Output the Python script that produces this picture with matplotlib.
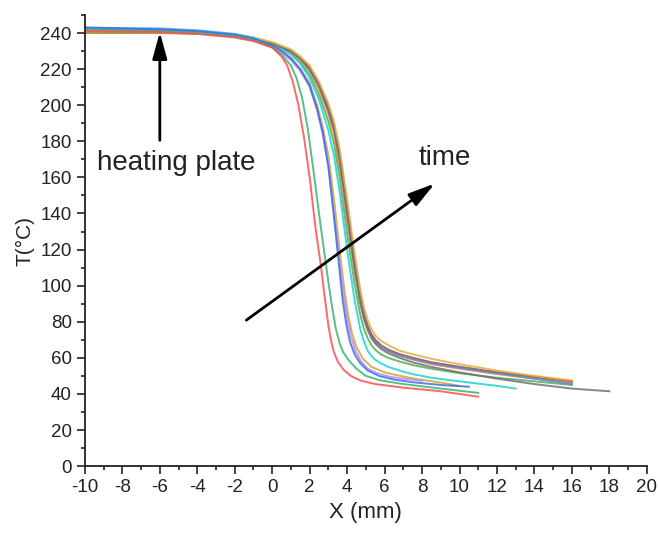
import matplotlib
matplotlib.use("Agg")
import matplotlib.pyplot as plt
from matplotlib.ticker import MultipleLocator

plt.rcParams['font.family'] = ['Liberation Sans', 'DejaVu Sans']
plt.rcParams['axes.unicode_minus'] = False

# temperature profiles, one per time step (x in mm, T in degC)
x_red = [-10, -6, -4, -2, -1, 0, 0.5, 0.8, 1.1, 1.4, 1.7, 2.0, 2.3, 2.6, 2.8, 3.0, 3.15, 3.3, 3.5, 3.8, 4.2, 4.7, 5.5, 7, 9, 11]
t_red = [241, 240.5, 239.5, 237.5, 235.5, 232, 227, 222, 213, 200, 182, 160, 133, 111, 94, 78, 69, 63, 58, 53.5, 50, 47.5, 45.5, 43.5, 41.5, 38.5]

x_green = [-10, -6, -4, -2, -1, 0, 0.5, 1, 1.3, 1.6, 1.9, 2.2, 2.5, 2.8, 3.0, 3.2, 3.4, 3.6, 3.8, 4.1, 4.5, 5, 5.8, 7, 9, 11]
t_green = [242, 241, 240, 238, 236, 232, 228, 222, 215, 204, 187, 164, 140, 117, 102, 88, 76, 68, 63, 58.5, 54, 50, 47.5, 45.5, 43, 40.6]

x_blue = [-10, -6, -4, -2, -1, 0, 0.5, 1, 1.5, 2, 2.4, 2.7, 3.0, 3.3, 3.55, 3.75, 3.95, 4.15, 4.4, 4.7, 5.1, 5.7, 6.5, 7.5, 9, 10.5]
t_blue = [243, 242, 241, 239, 237, 233, 230, 226, 220, 211, 198, 185, 166, 138, 113, 93, 79, 69, 62, 57, 53, 50, 48, 46.5, 45, 44]

x_purple = [-10, -6, -4, -2, -1, 0, 0.5, 1, 1.5, 2, 2.4, 2.7, 3.0, 3.3, 3.6, 3.8, 4.0, 4.2, 4.45, 4.75, 5.1, 5.6, 6.3, 7, 8]
t_purple = [242, 241, 240, 238, 236, 232, 229, 225, 219, 210, 197, 184, 166, 140, 113, 96, 82, 72, 64, 58, 54, 51.5, 49.5, 48.5, 47.3]

x_gold = [-10, -6, -4, -2, -1, 0, 0.5, 1, 1.5, 2, 2.4, 2.7, 3.0, 3.3, 3.6, 3.85, 4.05, 4.25, 4.5, 4.85, 5.3, 6, 6.7, 7.7, 9, 10]
t_gold = [241, 241, 240, 238, 236, 233, 230, 226, 220, 212, 200, 188, 172, 148, 120, 98, 84, 74, 66, 59.5, 55, 52, 50.3, 48.3, 46.3, 44.5]

# later profiles share one x grid
x_late = [-10, -6, -4, -2, -1, 0, 0.5, 1, 1.5, 2, 2.5, 3, 3.3, 3.6, 4, 4.4, 4.7, 4.9, 5.1, 5.3, 5.5, 5.8, 6.2, 6.8, 7.5, 8.5, 10, 12, 14, 16]
t_green2 = [241, 241, 240, 238.5, 237, 234, 232, 229, 224, 217, 206, 191, 179, 160, 129, 101, 84, 76, 71, 67, 64.5, 62, 60, 58, 56, 54, 51.5, 49, 47, 45]
t_olive = [240, 240, 239.5, 238.5, 237, 234, 232, 229, 226, 220, 210, 197, 186, 169, 139, 110, 92, 83, 77, 73, 70, 67, 64.5, 62, 60, 57.5, 55, 52, 49.5, 47]
t_orange = [241, 241, 240, 238.5, 237, 234, 232, 229, 225, 219, 209, 195, 184, 166, 136, 108, 90, 81, 75, 71, 68.5, 66, 63.5, 61, 59, 56.5, 54, 51, 48.5, 46]
t_darkred = [242, 241.5, 240.5, 239, 237, 234, 232, 230, 226, 221, 212, 199, 189, 173, 145, 114, 95, 85, 78, 73, 70, 67, 64.5, 62, 60, 57.5, 55, 52, 49.5, 47]
t_blue2 = [243, 242.5, 241.5, 239.5, 237.5, 234, 232, 230, 226, 220, 211, 198, 188, 171, 142, 112, 93, 83, 77, 72, 69, 66.5, 64, 61.5, 59.5, 57, 54.5, 51.5, 48.5, 45.5]
t_gold2 = [241, 241, 240, 239, 237.5, 235, 233, 231, 227, 222, 213, 201, 191, 176, 148, 118, 98, 88, 81, 76, 72.5, 69.5, 67, 64, 62, 59.5, 56.5, 53, 50, 47.5]

x_cyan = [-10, -6, -4, -2, -1, 0, 0.5, 1, 1.5, 2, 2.5, 3, 3.3, 3.6, 4, 4.4, 4.7, 4.9, 5.1, 5.3, 5.5, 5.8, 6.2, 6.8, 7.5, 8.5, 10, 12, 13]
t_cyan = [242, 242, 241, 239, 237, 233, 231, 228, 223, 215, 203, 186, 172, 152, 120, 92, 76, 69, 64, 61, 59, 57, 55, 53, 51, 49, 47, 44.5, 43]

x_grey = [-10, -6, -4, -2, -1, 0, 0.5, 1, 1.5, 2, 2.5, 3, 3.3, 3.6, 4, 4.4, 4.7, 4.9, 5.1, 5.3, 5.5, 5.8, 6.2, 6.8, 7.5, 8.5, 10, 12, 14, 16, 18]
t_grey = [241, 241, 240, 238.5, 237, 234, 232, 230, 226, 220, 211, 197, 187, 170, 140, 110, 91, 82, 76, 71, 68, 65, 62.5, 60, 57.5, 55, 52, 48.5, 45.5, 43, 41.5]

curves = [
    (x_late, t_green2, '#4CAF50'),
    (x_late, t_olive, '#8C8C2C'),
    (x_late, t_orange, '#FF8040'),
    (x_late, t_darkred, '#C84646'),
    (x_late, t_blue2, '#4A90E2'),
    (x_grey, t_grey, '#707070'),
    (x_late, t_gold2, '#E0B040'),
    (x_cyan, t_cyan, '#17D4D4'),
    (x_gold, t_gold, '#D4A431'),
    (x_purple, t_purple, '#B98AF0'),
    (x_blue, t_blue, '#3A6FE8'),
    (x_green, t_green, '#3CB371'),
    (x_red, t_red, '#FF4D4D'),
]

fig = plt.figure(figsize=(6.58, 5.34), dpi=100)
ax = fig.add_axes([0.129, 0.127, 0.854, 0.845])

for xs, ts, c in curves:
    ax.plot(xs, ts, color=c, lw=1.4, alpha=0.85)

ax.set_xlim(-10, 20)
ax.set_ylim(0, 250)
ax.xaxis.set_major_locator(MultipleLocator(2))
ax.xaxis.set_minor_locator(MultipleLocator(1))
ax.yaxis.set_minor_locator(MultipleLocator(10))
ax.set_yticks(range(0, 241, 20))
ax.spines['top'].set_visible(False)
ax.spines['right'].set_visible(False)
for s in ['left', 'bottom']:
    ax.spines[s].set_linewidth(1.3)
    ax.spines[s].set_color('#222222')
ax.tick_params(which='major', direction='out', length=6, width=1.2, labelsize=13.5, colors='#222222')
ax.tick_params(which='minor', direction='out', length=3, width=1.2, colors='#222222')

ax.set_xlabel('X (mm)', fontsize=16, color='#222222')
ax.set_ylabel('T(°C)', fontsize=15, color='#222222', labelpad=4)

# arrows + labels
ax.annotate('', xy=(-6, 242), xytext=(-6, 179),
            arrowprops=dict(arrowstyle='-|>,head_length=0.8,head_width=0.22', color='black', lw=2, mutation_scale=20))
ax.text(-9.35, 168, 'heating plate', fontsize=20, va='center', ha='left', color='#222222')

ax.annotate('', xy=(8.8, 157.5), xytext=(-1.5, 80),
            arrowprops=dict(arrowstyle='-|>,head_length=0.8,head_width=0.22', color='black', lw=2, mutation_scale=20))
ax.text(7.8, 171, 'time', fontsize=20, va='center', ha='left', color='#222222')

fig.savefig('out.png', dpi=100)
